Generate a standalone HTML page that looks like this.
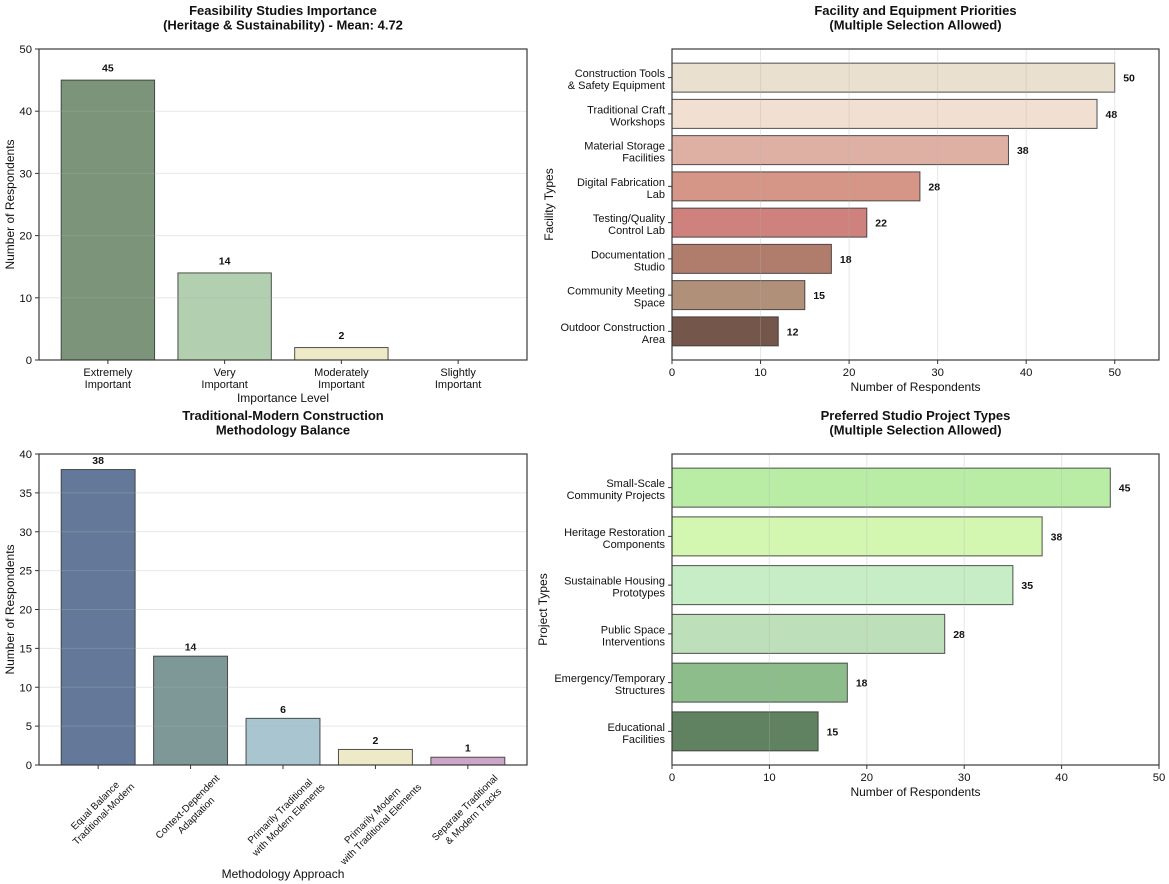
<!DOCTYPE html>
<html lang="en">
<head>
<meta charset="utf-8">
<title>Survey charts</title>
<style>
  html, body { margin: 0; padding: 0; background: #fff; }
  svg { display: block; font-family: "Liberation Sans", sans-serif; }
  text { fill: #111; }
</style>
</head>
<body>
<svg id="figure" xmlns="http://www.w3.org/2000/svg" width="1169" height="884" viewBox="0 0 1169 884"></svg>
<script>
// Chart A: feasibility importance
const feasCategories = ['Extremely\nImportant', 'Very\nImportant', 'Moderately\nImportant', 'Slightly\nImportant'];
const feasValues = [45, 14, 2, 0];
const feasTicks = [0, 10, 20, 30, 40, 50];
const feasColors = ['#7c9479', '#b2cfb0', '#eee9c6', '#c9a6c6'];

// Chart B: facility priorities
const facilityCategories = ['Construction Tools\n& Safety Equipment', 'Traditional Craft\nWorkshops', 'Material Storage\nFacilities', 'Digital Fabrication\nLab', 'Testing/Quality\nControl Lab', 'Documentation\nStudio', 'Community Meeting\nSpace', 'Outdoor Construction\nArea'];
const facilityValues = [50, 48, 38, 28, 22, 18, 15, 12];
const facilityTicks = [0, 10, 20, 30, 40, 50];
const facilityColors = ['#e9e0cf', '#f1e0d1', '#deb0a4', '#d59688', '#cf827d', '#b07d6c', '#b19079', '#75564a'];

// Chart C: methodology balance
const methodCategories = ['Equal Balance\nTraditional-Modern', 'Context-Dependent\nAdaptation', 'Primarily Traditional\nwith Modern Elements', 'Primarily Modern\nwith Traditional Elements', 'Separate Traditional\n& Modern Tracks'];
const methodValues = [38, 14, 6, 2, 1];
const methodTicks = [0, 5, 10, 15, 20, 25, 30, 35, 40];
const methodColors = ['#64799a', '#7e9897', '#a9c5d0', '#eee9c6', '#cba6c8'];

// Chart D: studio project types
const projectCategories = ['Small-Scale\nCommunity Projects', 'Heritage Restoration\nComponents', 'Sustainable Housing\nPrototypes', 'Public Space\nInterventions', 'Emergency/Temporary\nStructures', 'Educational\nFacilities'];
const projectValues = [45, 38, 35, 28, 18, 15];
const projectTicks = [0, 10, 20, 30, 40, 50];
const projectColors = ['#b9eda6', '#d3f6b0', '#c7edc6', '#bddfb9', '#8cbd8b', '#608260'];

const svg = document.getElementById('figure');
const NS = 'http://www.w3.org/2000/svg';

function make(tag, attrs, parent) {
  const node = document.createElementNS(NS, tag);
  for (const key in attrs) node.setAttribute(key, attrs[key]);
  (parent || svg).appendChild(node);
  return node;
}
function slug(s) {
  return s.toLowerCase().replace(/[^a-z0-9]+/g, '-').replace(/^-|-$/g, '');
}
function bandScale(count, start, length) {
  const pad = 0.4 + 0.05 * (count - 1 + 0.8);
  const step = length / (count - 1 + 2 * pad);
  return { step: step, center: function (i) { return start + (pad + i) * step; } };
}
function linearScale(dMax, from, to) {
  return function (v) { return from + (to - from) * v / dMax; };
}
function addLines(textNode, lines, x, firstDy, lineHeight) {
  lines.forEach(function (line, i) {
    const span = make('tspan', { x: x, dy: i === 0 ? firstDy : lineHeight }, textNode);
    span.textContent = line;
  });
}

function drawFrame(group, box, key) {
  const frame = make('rect', { x: box.x, y: box.y, width: box.w, height: box.h, fill: 'none', stroke: '#3a3a3a', 'stroke-width': 1.2 }, group);
  
  
}

function drawTitle(group, lines, cx, y, key) {
  const title = make('text', { x: cx, y: y, 'text-anchor': 'middle', 'font-size': 13, 'font-weight': 'bold' }, group);
  
  
  addLines(title, lines, cx, 0, 14.5);
}

function drawAxisTitle(group, label, x, y, rotated, key, which) {
  const attrs = { x: x, y: y, 'text-anchor': 'middle', 'font-size': 12 };
  if (rotated) attrs.transform = 'rotate(-90 ' + x + ' ' + y + ')';
  const t = make('text', attrs, group);
  
  
  t.textContent = label;
}

function drawVertical(cfg) {
  const group = make('g', {});
  
  
  const box = cfg.box;
  const bottom = box.y + box.h;
  const band = bandScale(cfg.categories.length, box.x, box.w);
  const yScale = linearScale(cfg.yMax, bottom, box.y);
  const barWidth = band.step * 0.8;

  cfg.values.forEach(function (v, i) {
    if (v === 0) return;
    const bar = make('rect', { x: band.center(i) - barWidth / 2, y: yScale(v), width: barWidth, height: bottom - yScale(v), fill: cfg.colors[i], stroke: '#333', 'stroke-opacity': 0.85, 'stroke-width': 1 }, group);
    
    
    const value = make('text', { x: band.center(i), y: yScale(v) - cfg.valueGap, 'text-anchor': 'middle', 'font-size': 10.5, 'font-weight': 'bold' }, group);
    
    
    value.textContent = v;
  });

  cfg.ticks.forEach(function (t) {
    const y = yScale(t);
    if (t > 0 && t < cfg.yMax) {
      const grid = make('line', { x1: box.x, x2: box.x + box.w, y1: y, y2: y, stroke: '#b0b0b0', 'stroke-opacity': 0.3, 'stroke-width': 1 }, group);
      
      
    }
    const tick = make('line', { x1: box.x - 4, x2: box.x, y1: y, y2: y, stroke: '#333', 'stroke-width': 1 }, group);
    
    
    const label = make('text', { x: box.x - 7, y: y + 4, 'text-anchor': 'end', 'font-size': 11.3 }, group);
    
    
    label.textContent = t;
  });

  cfg.categories.forEach(function (c, i) {
    const x = band.center(i);
    const tick = make('line', { x1: x, x2: x, y1: bottom, y2: bottom + 4, stroke: '#333', 'stroke-width': 1 }, group);
    
    
    const lines = c.split('\n');
    if (cfg.rotated) {
      const holder = make('g', {}, group);
      const label = make('text', { x: 0, y: 0, 'text-anchor': 'middle', 'font-size': 9.9 }, holder);
      
      
      addLines(label, lines, 0, -2.5, 12);
      const w = label.getBBox().width;
      const half = (w + 24) * Math.SQRT1_2 / 2;
      holder.setAttribute('transform', 'translate(' + (x + 1) + ' ' + (bottom + 7 + half) + ') rotate(-45)');
    } else {
      const label = make('text', { x: x, y: bottom + 16, 'text-anchor': 'middle', 'font-size': 11 }, group);
      
      
      addLines(label, lines, x, 0, 12);
    }
  });

  drawFrame(group, box, cfg.key);
  drawTitle(group, cfg.title, box.x + box.w / 2, cfg.titleY, cfg.key);
  drawAxisTitle(group, cfg.xLabel, box.x + box.w / 2, cfg.xLabelY, false, cfg.key, 'x');
  drawAxisTitle(group, cfg.yLabel, cfg.yLabelX, box.y + box.h / 2, true, cfg.key, 'y');
}

function drawHorizontal(cfg) {
  const group = make('g', {});
  
  
  const box = cfg.box;
  const bottom = box.y + box.h;
  const band = bandScale(cfg.categories.length, box.y, box.h);
  const xScale = linearScale(cfg.xMax, box.x, box.x + box.w);
  const barHeight = band.step * 0.8;

  cfg.values.forEach(function (v, i) {
    const y = band.center(i);
    const bar = make('rect', { x: box.x, y: y - barHeight / 2, width: xScale(v) - box.x, height: barHeight, fill: cfg.colors[i], stroke: '#333', 'stroke-opacity': 0.85, 'stroke-width': 1 }, group);
    
    
    const value = make('text', { x: xScale(v) + 8.5, y: y + 4, 'font-size': 10.5, 'font-weight': 'bold' }, group);
    
    
    value.textContent = v;
    const tick = make('line', { x1: box.x - 4, x2: box.x, y1: y, y2: y, stroke: '#333', 'stroke-width': 1 }, group);
    
    
    const label = make('text', { x: box.x - 7, y: y, 'text-anchor': 'end', 'font-size': 11 }, group);
    
    
    addLines(label, cfg.categories[i].split('\n'), box.x - 7, -0.5, 12);
  });

  cfg.ticks.forEach(function (t) {
    const x = xScale(t);
    if (t > 0 && t < cfg.xMax) {
      const grid = make('line', { x1: x, x2: x, y1: box.y, y2: bottom, stroke: '#b0b0b0', 'stroke-opacity': 0.3, 'stroke-width': 1 }, group);
      
      
    }
    const tick = make('line', { x1: x, x2: x, y1: bottom, y2: bottom + 4, stroke: '#333', 'stroke-width': 1 }, group);
    
    
    const label = make('text', { x: x, y: bottom + 16, 'text-anchor': 'middle', 'font-size': 11.3 }, group);
    
    
    label.textContent = t;
  });

  drawFrame(group, box, cfg.key);
  drawTitle(group, cfg.title, box.x + box.w / 2, cfg.titleY, cfg.key);
  drawAxisTitle(group, cfg.xLabel, box.x + box.w / 2, cfg.xLabelY, false, cfg.key, 'x');
  drawAxisTitle(group, cfg.yLabel, cfg.yLabelX, box.y + box.h / 2, true, cfg.key, 'y');
}

drawVertical({
  key: 'feasibility', box: { x: 39, y: 49, w: 488, h: 311 }, yMax: 50,
  categories: feasCategories, values: feasValues, colors: feasColors, ticks: feasTicks,
  valueGap: 8.5, rotated: false,
  title: ['Feasibility Studies Importance', '(Heritage & Sustainability) - Mean: 4.72'], titleY: 15,
  xLabel: 'Importance Level', xLabelY: 402, yLabel: 'Number of Respondents', yLabelX: 14
});
drawHorizontal({
  key: 'facility', box: { x: 672, y: 49, w: 487, h: 311 }, xMax: 55,
  categories: facilityCategories, values: facilityValues, colors: facilityColors, ticks: facilityTicks,
  title: ['Facility and Equipment Priorities', '(Multiple Selection Allowed)'], titleY: 15,
  xLabel: 'Number of Respondents', xLabelY: 391, yLabel: 'Facility Types', yLabelX: 553
});
drawVertical({
  key: 'methodology', box: { x: 39, y: 454, w: 488, h: 311 }, yMax: 40,
  categories: methodCategories, values: methodValues, colors: methodColors, ticks: methodTicks,
  valueGap: 5.5, rotated: true,
  title: ['Traditional-Modern Construction', 'Methodology Balance'], titleY: 420,
  xLabel: 'Methodology Approach', xLabelY: 878, yLabel: 'Number of Respondents', yLabelX: 14
});
drawHorizontal({
  key: 'project', box: { x: 672, y: 454, w: 487, h: 311 }, xMax: 50,
  categories: projectCategories, values: projectValues, colors: projectColors, ticks: projectTicks,
  title: ['Preferred Studio Project Types', '(Multiple Selection Allowed)'], titleY: 420,
  xLabel: 'Number of Respondents', xLabelY: 796, yLabel: 'Project Types', yLabelX: 547
});
</script>
</body>
</html>
